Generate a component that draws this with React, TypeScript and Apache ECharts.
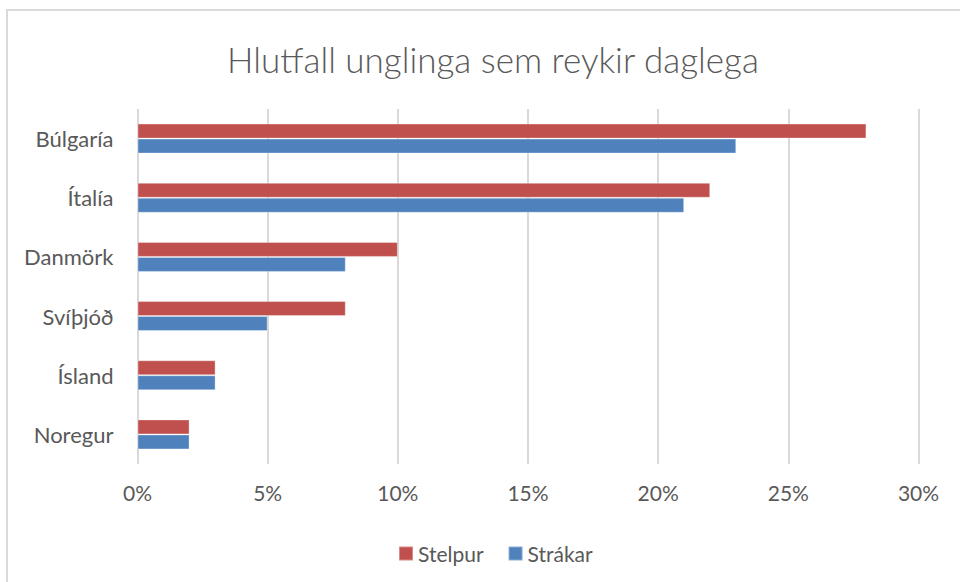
import React, { useEffect, useRef } from "react";
import * as echarts from "echarts";

const categories = ["Búlgaría", "Ítalía", "Danmörk", "Svíþjóð", "Ísland", "Noregur"];
const stelpur = [28, 22, 10, 8, 3, 2];
const strakar = [23, 21, 8, 5, 3, 2];
const seriesNames = ["Stelpur", "Strákar"];
const titleText = "Hlutfall unglinga sem reykir daglega";

const FONT = "Lato, 'Open Sans', sans-serif";
const TEXT = "#595959";

export default function App() {
  const ref = useRef<HTMLDivElement>(null);
  useEffect(() => {
    if (!ref.current) return;
    const chart = echarts.init(ref.current, undefined, { renderer: "svg" });
    chart.setOption({
      animation: false,
      backgroundColor: "#ffffff",
      textStyle: { fontFamily: FONT },
      title: {
        text: titleText,
        left: 488,
        top: 36,
        textAlign: "center",
        textStyle: { fontFamily: FONT, fontSize: 35, fontWeight: 300, color: TEXT },
      },
      legend: {
        data: seriesNames,
        left: 393,
        top: 538,
        itemWidth: 14,
        itemHeight: 14,
        itemGap: 24,
        icon: "rect",
        textStyle: { fontFamily: FONT, fontSize: 21, color: TEXT },
      },
      grid: { left: 137.5, right: 41.5, top: 109, bottom: 118, containLabel: false },
      xAxis: {
        type: "value",
        min: 0,
        max: 30,
        interval: 5,
        axisLabel: {
          formatter: "{value}%",
          fontFamily: FONT,
          fontSize: 21,
          color: TEXT,
          margin: 18,
        },
        axisLine: { show: false },
        axisTick: { show: false },
        splitLine: { show: true, lineStyle: { color: "#d9d9d9", width: 2 } },
      },
      yAxis: {
        type: "category",
        data: categories,
        inverse: true,
        axisLabel: { fontFamily: FONT, fontSize: 22, color: TEXT, margin: 24 },
        axisLine: { show: false },
        axisTick: { show: false },
        splitLine: { show: false },
      },
      series: [
        {
          name: seriesNames[0],
          type: "bar",
          data: stelpur,
          barWidth: 15,
          barGap: "0%",
          itemStyle: { color: "#C0504D", borderColor: "rgba(255,255,255,0.35)", borderWidth: 1 },
        },
        {
          name: seriesNames[1],
          type: "bar",
          data: strakar,
          barWidth: 15,
          barGap: "0%",
          itemStyle: { color: "#4F81BD", borderColor: "rgba(255,255,255,0.35)", borderWidth: 1 },
        },
      ],
      graphic: [
        {
          type: "rect",
          shape: { x: 7, y: 10, width: 1000, height: 1000 },
          style: { fill: "none", stroke: "#d9d9d9", lineWidth: 2 },
          silent: true,
          z: -1,
        },
      ],
    });
    return () => chart.dispose();
  }, []);
  return (
    <div
      ref={ref}
      style={{ position: "fixed", left: 0, top: 0, width: 960, height: 582 }}
    />
  );
}
